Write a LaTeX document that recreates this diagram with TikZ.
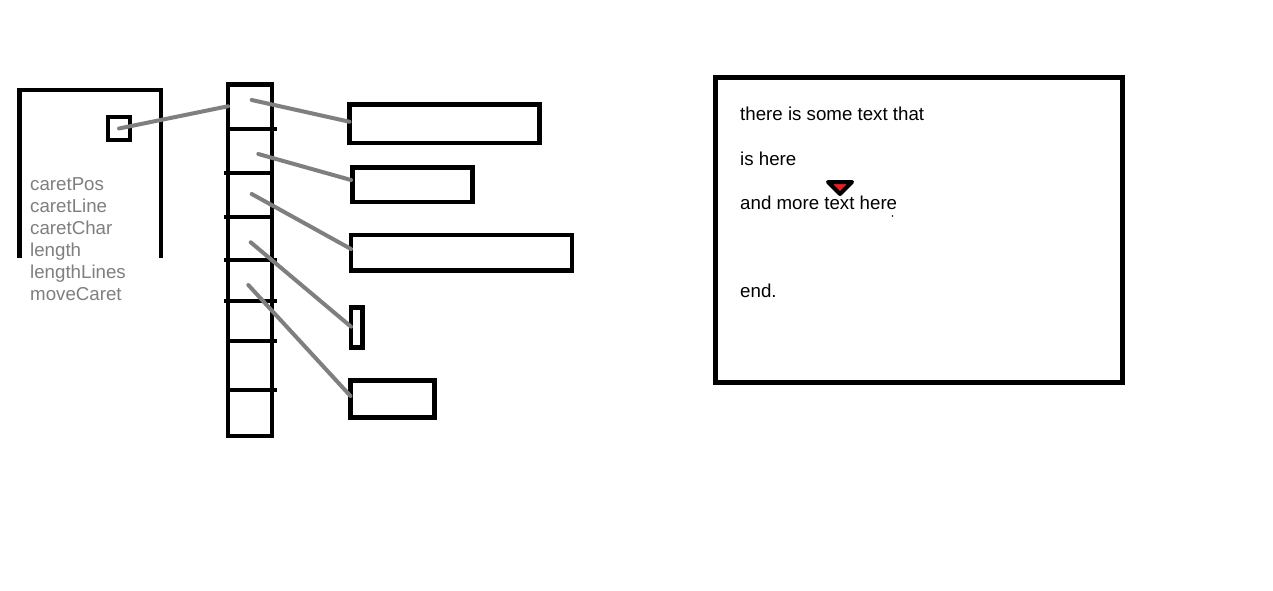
\documentclass[tikz,border=0pt]{standalone}
\usepackage{fontspec}
\setmainfont{Liberation Sans}
\definecolor{lgray}{RGB}{127,127,127}
\definecolor{pred}{RGB}{237,28,36}
\tikzset{
  blk/.style={draw=black, line width=4.6pt, inner sep=0pt, outer sep=0pt},
  cell/.style={blk, minimum width=44pt},
  tick/.style={draw=black, line width=4.6pt},
  conn/.style={draw=lgray, line width=4pt, line cap=round},
  lbl/.style={anchor=base west, inner sep=0pt, text=lgray, font=\fontsize{18.7}{22}\selectfont},
  txt/.style={anchor=base west, inner sep=0pt, text=black, font=\fontsize{18.7}{22}\selectfont}
}
\begin{document}
\begin{tikzpicture}[x=1pt,y=-1pt]
\useasboundingbox[fill=white] (0,0) rectangle (1273,591);

% left frame (open at the bottom)
\draw[line width=4.7pt] (19.5,258) -- (19.5,90) -- (161,90) -- (161,258);
\node[blk, line width=4.2pt, minimum width=22pt, minimum height=23pt] (sq) at (119,128.5) {};

% labels
\node[lbl] (t1) at (30,190) {caretPos};
\node[lbl] (t2) at (30,212) {caretLine};
\node[lbl] (t3) at (30,234) {caretChar};
\node[lbl] (t4) at (30,256) {length};
\node[lbl] (t5) at (30,278) {lengthLines};
\node[lbl] (t6) at (30,300) {moveCaret};

% column of cells
\node[cell, minimum height=44.5pt] (c1) at (250,106.75) {};
\node[cell, minimum height=44pt]   (c2) at (250,151) {};
\node[cell, minimum height=44pt]   (c3) at (250,195) {};
\node[cell, minimum height=43pt]   (c4) at (250,238.5) {};
\node[cell, minimum height=41pt]   (c5) at (250,280.5) {};
\node[cell, minimum height=40pt]   (c6) at (250,321) {};
\node[cell, minimum height=49pt]   (c7) at (250,365.5) {};
\node[cell, minimum height=46pt]   (c8) at (250,413) {};

% divider overhangs
\draw[tick] (c1.south east) -- ++(5,0);
\draw[tick] (c2.south west) -- ++(-4,0);
\draw[tick] (c3.south west) -- ++(-4,0);
\draw[tick] (c4.south west) -- ++(-4,0) (c4.south east) -- ++(5,0);
\draw[tick] (c5.south west) -- ++(-4,0) (c5.south east) -- ++(5,0);
\draw[tick] (c6.south east) -- ++(5,0);
\draw[tick] (c7.south east) -- ++(5,0);

% right-hand rectangles
\node[blk, minimum width=190pt, minimum height=38.5pt] (r1) at (444.5,123.75) {};
\node[blk, minimum width=120pt, minimum height=34.5pt] (r2) at (412.5,184.75) {};
\node[blk, minimum width=221pt, minimum height=35.5pt] (r3) at (461.5,252.75) {};
\node[blk, minimum width=11.5pt, minimum height=40pt] (r4) at (356.75,327.5) {};
\node[blk, minimum width=84pt, minimum height=37pt] (r5) at (392.5,399) {};

% connector start points
\coordinate (s1) at (251.7,100);
\coordinate (s2) at (258.3,154);
\coordinate (s3) at (251.7,194);
\coordinate (s4) at (250.7,242.3);
\coordinate (s5) at (248.3,285);

\draw[conn] (sq.center) -- ([yshift=0.5pt]c1.west);
\draw[conn] (s1) -- ([yshift=2pt]r1.west);
\draw[conn] (s2) -- ([yshift=4.75pt,xshift=-1.5pt]r2.west);
\draw[conn] (s3) -- ([yshift=3.75pt]r3.west);
\draw[conn] (s4) -- ([yshift=0.8pt]r4.west);
\draw[conn] (s5) -- ([yshift=3pt]r5.west);

% text box
\node[blk, line width=5pt, minimum width=407pt, minimum height=304.6pt] (box) at (918.5,230) {};
\node[txt] (l1) at (740,121) {there is some text that};
\node[txt] (l2) at (740,165) {is here};
\node[txt] (l3) at (740,209) {and more text here};
\node[txt] (l4) at (740,297) {end.};

% caret
\draw[line width=4pt, line join=round, fill=pred] (828,182) -- (852,182) -- (840,194) -- cycle;
\fill[black] (892.5,216) circle (0.8);
\end{tikzpicture}
\end{document}
